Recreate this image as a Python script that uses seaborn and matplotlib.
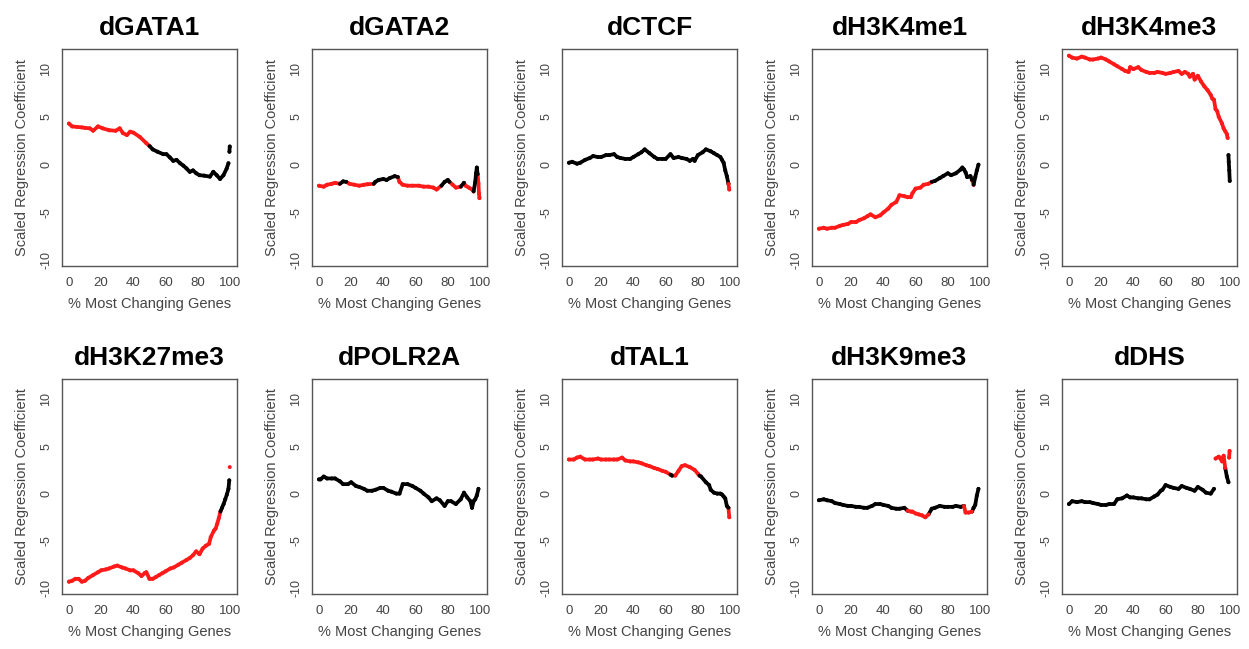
import numpy as np
import pandas as pd
import matplotlib
matplotlib.use("Agg")
import matplotlib.pyplot as plt
import seaborn as sns

sns.set_theme(style="white")
plt.rcParams["font.family"] = ["Liberation Sans", "DejaVu Sans"]

TITLES = ["dGATA1", "dGATA2", "dCTCF", "dH3K4me1", "dH3K4me3",
          "dH3K27me3", "dPOLR2A", "dTAL1", "dH3K9me3", "dDHS"]
X_TICKS = [0, 20, 40, 60, 80, 100]
Y_TICKS = [-10, -5, 0, 5, 10]
X_LABEL = "% Most Changing Genes"
Y_LABEL = "Scaled Regression Coefficient"

# ---- dGATA1
gata1_x = [0, 2, 5, 8, 10, 13, 15, 18, 21, 25, 29, 31.5, 33.5, 36, 38, 40, 44, 48, 50, 52, 55,
           58.5, 60.5, 62.7, 64.7, 66.8, 69, 71, 73, 75, 77, 79, 81, 84, 87.5, 89.6, 91.7, 93.8,
           95.9, 97.9, 99, 99.6, 99.8]
gata1_y = [4.3, 4.0, 3.95, 3.9, 3.85, 3.8, 3.55, 4.0, 3.8, 3.6, 3.55, 3.8, 3.3, 3.1, 3.45, 3.35,
           2.9, 2.25, 1.95, 1.6, 1.35, 1.1, 1.1, 0.75, 0.4, 0.5, 0.15, -0.1, -0.4, -0.75, -0.6,
           -0.9, -1.1, -1.15, -1.25, -0.75, -1.1, -1.5, -1.1, -0.4, 0.15, 1.35, 1.9]
gata1_red = [(0, 50)]
gata1_breaks = [99.6]

# ---- dGATA2
gata2_x = [0, 3, 5, 8, 10, 13, 15, 17, 19, 22, 25, 28, 30, 34, 35, 37, 40, 42, 44, 47, 49, 50,
           52, 55, 58, 62, 65, 68, 71, 73, 76, 78, 80, 81, 83, 85, 88, 90, 91, 93, 95, 96, 97,
           97.5, 98, 98.5, 99, 99.3, 99.6]
gata2_y = [-2.2, -2.3, -2.1, -2.0, -1.9, -2.0, -1.75, -1.8, -2.0, -2.1, -2.2, -2.1, -2.05, -2.0,
           -1.8, -1.6, -1.5, -1.6, -1.4, -1.2, -1.3, -1.8, -2.1, -2.2, -2.2, -2.2, -2.3, -2.3,
           -2.4, -2.6, -2.2, -1.8, -1.6, -1.8, -2.1, -2.4, -2.3, -1.9, -2.2, -2.4, -2.6, -2.8,
           -1.8, -0.9, -0.3, -1.0, -2.0, -3.0, -3.5]
gata2_red = [(0, 13), (19, 34), (50, 77), (83, 89), (91, 96.5), (99, 100)]
gata2_breaks = []

# ---- dCTCF
ctcf_x = [0, 2, 5, 7, 10, 13, 15, 18, 20, 23, 25, 28, 30, 32, 35, 38, 40, 43, 45, 47, 50, 53,
          55, 58, 60, 63, 65, 68, 70, 73, 75, 77, 78, 80, 83, 85, 88, 90, 92, 94, 95, 96, 97,
          98, 99, 99.5]
ctcf_y = [0.2, 0.3, 0.1, 0.2, 0.5, 0.7, 0.9, 0.8, 0.8, 1.0, 1.0, 1.1, 0.8, 0.7, 0.6, 0.6, 0.8,
          1.1, 1.3, 1.6, 1.2, 0.8, 0.6, 0.6, 0.6, 1.1, 0.7, 0.8, 0.7, 0.6, 0.4, 0.6, 0.4, 1.0,
          1.3, 1.6, 1.4, 1.2, 1.0, 0.8, 0.5, 0.2, -0.6, -1.2, -2.0, -2.6]
ctcf_red = [(99.5, 100)]
ctcf_breaks = []

# ---- dH3K4me1
k4me1_x = [0, 3, 5, 8, 10, 13, 15, 18, 20, 23, 25, 28, 30, 32, 35, 38, 40, 43, 45, 48, 50, 53,
           55, 57, 58, 60, 63, 65, 68, 70, 72, 75, 77, 80, 82, 85, 88, 89, 90, 91, 92, 94, 95,
           96, 97, 98, 99]
k4me1_y = [-6.7, -6.6, -6.7, -6.6, -6.6, -6.4, -6.3, -6.2, -6.0, -6.0, -5.8, -5.6, -5.4, -5.2,
           -5.5, -5.3, -5.0, -4.6, -4.2, -3.9, -3.2, -3.3, -3.4, -3.4, -3.0, -2.5, -2.4, -2.1,
           -2.0, -1.8, -1.7, -1.4, -1.2, -0.9, -1.1, -0.9, -0.5, -0.3, -0.5, -0.8, -1.3, -1.2,
           -1.6, -2.1, -1.3, -0.6, 0.0]
k4me1_red = [(0, 70), (96, 96)]
k4me1_breaks = []

# ---- dH3K4me3
k4me3_x = [0, 2, 5, 8, 10, 13, 15, 18, 20, 23, 25, 28, 30, 33, 35, 37, 38, 40, 43, 45, 48, 50,
           53, 55, 58, 60, 63, 65, 68, 70, 72, 74, 75, 77, 78, 80, 82, 84, 86, 88, 89, 90, 91,
           92, 93, 95, 96, 97, 98, 98.5, 99, 99.2, 99.5, 99.8]
k4me3_y = [11.4, 11.2, 11.1, 11.3, 11.2, 11.0, 11.0, 11.1, 11.2, 11.0, 10.8, 10.5, 10.3, 10.0,
           9.8, 9.7, 10.2, 10.0, 10.2, 9.9, 9.7, 9.6, 9.6, 9.7, 9.6, 9.5, 9.6, 9.7, 9.8, 9.5,
           9.7, 9.5, 9.2, 9.5, 8.9, 9.3, 8.7, 8.2, 7.8, 7.3, 6.9, 6.8, 5.8, 5.6, 5.0, 4.3, 3.8,
           3.5, 3.2, 2.8, 1.0, 0.3, -0.6, -1.7]
k4me3_red = [(0, 98.5)]
k4me3_breaks = [99]

# ---- dH3K27me3
k27_x = [0, 2, 4, 6, 8, 10, 12, 15, 18, 20, 23, 25, 28, 30, 33, 35, 38, 40, 43, 45, 47, 48, 50,
         52, 54, 56, 58, 60, 63, 65, 68, 70, 73, 75, 77, 79, 81, 83, 85, 87, 88, 90, 91, 92, 93,
         94, 95, 96, 97, 98, 99, 99.5, 99.8]
k27_y = [-9.3, -9.2, -9.0, -9.0, -9.3, -9.2, -8.9, -8.6, -8.3, -8.1, -8.0, -7.9, -7.7, -7.6,
         -7.8, -7.9, -8.1, -8.1, -8.4, -8.7, -8.4, -8.3, -9.0, -9.0, -8.8, -8.6, -8.4, -8.2,
         -7.9, -7.8, -7.5, -7.3, -7.0, -6.8, -6.5, -6.1, -6.4, -5.8, -5.5, -5.3, -4.6, -3.9,
         -3.7, -3.2, -2.6, -1.9, -1.5, -1.1, -0.6, -0.1, 0.5, 1.4, 2.8]
k27_red = [(0, 94), (99.7, 100)]
k27_breaks = [99.8]

# ---- dPOLR2A
polr_x = [0, 1, 3, 5, 8, 10, 13, 15, 18, 20, 23, 25, 28, 30, 33, 35, 38, 40, 43, 45, 48, 50, 52,
          55, 58, 60, 63, 65, 68, 70, 73, 75, 78, 80, 82, 85, 88, 90, 92, 94, 95, 96, 97, 98, 99]
polr_y = [1.5, 1.5, 1.8, 1.6, 1.6, 1.6, 1.3, 1.0, 1.0, 1.2, 0.8, 0.7, 0.5, 0.3, 0.3, 0.4, 0.6,
          0.6, 0.3, 0.2, 0.0, 0.0, 1.0, 1.0, 0.8, 0.6, 0.3, 0.0, -0.4, -0.8, -0.5, -0.7, -1.3,
          -0.8, -0.8, -1.1, -0.6, 0.1, -0.4, -0.8, -1.5, -0.8, -0.6, -0.2, 0.5]
polr_red = []
polr_breaks = []

# ---- dTAL1
tal1_x = [0, 3, 5, 7, 10, 13, 15, 18, 20, 23, 25, 28, 30, 33, 35, 38, 40, 43, 45, 48, 50, 53,
          55, 58, 60, 63, 64, 66, 68, 70, 72, 75, 78, 80, 81, 82, 85, 87, 88, 90, 92, 94, 95,
          96, 97, 98, 99, 99.5]
tal1_y = [3.6, 3.6, 3.8, 3.9, 3.6, 3.6, 3.6, 3.7, 3.6, 3.6, 3.6, 3.6, 3.6, 3.8, 3.5, 3.4, 3.4,
          3.3, 3.2, 3.0, 2.9, 2.7, 2.6, 2.4, 2.3, 2.0, 1.9, 1.9, 2.4, 2.9, 3.0, 2.8, 2.5, 2.1,
          1.9, 1.8, 1.2, 0.9, 0.4, 0.1, 0.0, 0.0, -0.1, -0.3, -0.5, -1.3, -1.5, -2.5]
tal1_red = [(0, 63), (66, 81), (99.5, 100)]
tal1_breaks = []

# ---- dH3K9me3
k9_x = [0, 3, 5, 8, 10, 13, 15, 18, 20, 23, 25, 28, 30, 33, 35, 38, 40, 43, 45, 48, 50, 53, 55,
        57, 58, 60, 62, 64, 66, 68, 70, 72, 75, 78, 80, 83, 85, 88, 90, 91, 93, 95, 96, 97, 98, 99]
k9_y = [-0.7, -0.6, -0.7, -0.8, -1.0, -1.1, -1.2, -1.3, -1.3, -1.4, -1.4, -1.5, -1.5, -1.3,
        -1.1, -1.1, -1.2, -1.3, -1.5, -1.6, -1.6, -1.5, -1.8, -1.9, -1.9, -2.1, -2.2, -2.3,
        -2.5, -2.2, -1.6, -1.5, -1.3, -1.4, -1.4, -1.4, -1.3, -1.4, -1.3, -2.0, -2.0, -1.9,
        -1.5, -1.2, -0.2, 0.5]
k9_red = [(57, 69), (91, 95)]
k9_breaks = []

# ---- dDHS
dhs_x = [0, 2, 5, 8, 10, 13, 15, 18, 20, 23, 25, 28, 30, 33, 36, 38, 40, 43, 45, 48, 50, 53, 55,
         57, 58, 60, 63, 65, 68, 70, 73, 75, 78, 80, 83, 85, 88, 90, 91, 93, 94, 95, 96, 97, 98,
         99, 99.4, 99.7]
dhs_y = [-1.1, -0.8, -0.9, -0.8, -0.9, -0.9, -1.0, -1.1, -1.2, -1.2, -1.1, -1.1, -0.6, -0.5,
         -0.2, -0.4, -0.4, -0.5, -0.5, -0.6, -0.6, -0.3, -0.1, 0.3, 0.4, 0.9, 0.7, 0.6, 0.5,
         0.8, 0.6, 0.5, 0.3, 0.7, 0.4, 0.1, 0.0, 0.5, 3.7, 3.9, 3.7, 3.4, 4.0, 2.7, 1.8, 1.2,
         3.8, 4.5]
dhs_red = [(91, 97), (99.3, 100)]
dhs_breaks = [91, 99.4]

PANELS = [
    (gata1_x, gata1_y, gata1_red, gata1_breaks),
    (gata2_x, gata2_y, gata2_red, gata2_breaks),
    (ctcf_x, ctcf_y, ctcf_red, ctcf_breaks),
    (k4me1_x, k4me1_y, k4me1_red, k4me1_breaks),
    (k4me3_x, k4me3_y, k4me3_red, k4me3_breaks),
    (k27_x, k27_y, k27_red, k27_breaks),
    (polr_x, polr_y, polr_red, polr_breaks),
    (tal1_x, tal1_y, tal1_red, tal1_breaks),
    (k9_x, k9_y, k9_red, k9_breaks),
    (dhs_x, dhs_y, dhs_red, dhs_breaks),
]

PALETTE = {"r": "#ff1a1a", "k": "#000000"}


def build(x, y, red, breaks):
    if len(x) != len(y):
        raise ValueError("length mismatch %d %d" % (len(x), len(y)))
    cols = ["r" if any(a <= xi <= b for a, b in red) else "k" for xi in x]
    rows = []
    run = 0
    for i in range(len(x)):
        if i > 0:
            if x[i] in breaks:
                run += 1
            elif cols[i] != cols[i - 1]:
                run += 1
                rows.append((x[i - 1], y[i - 1], cols[i], run))
        rows.append((x[i], y[i], cols[i], run))
    lines = pd.DataFrame(rows, columns=["x", "y", "c", "run"])
    pts = pd.DataFrame({"x": x, "y": y, "c": cols})
    return lines, pts


W, H = 1249, 649
fig = plt.figure(figsize=(W / 100, H / 100), dpi=100)
fig.patch.set_facecolor("white")

AX_W = 175
ROW_BOX = [(49, 266), (379, 594)]
GREY = "#555555"

for k, (title, panel) in enumerate(zip(TITLES, PANELS)):
    r, c = divmod(k, 5)
    left = 62 + 250 * c
    top, bottom = ROW_BOX[r]
    ax = fig.add_axes([left / W, 1 - bottom / H, AX_W / W, (bottom - top) / H])
    lines, pts = build(*panel)
    sns.lineplot(data=lines, x="x", y="y", hue="c", units="run", estimator=None, sort=False,
                 palette=PALETTE, linewidth=2.7, legend=False, ax=ax)
    sns.scatterplot(data=pts, x="x", y="y", hue="c", palette=PALETTE, s=8, linewidth=0,
                    legend=False, ax=ax)
    ax.set_xlim(-4.3, 104.3)
    ax.set_ylim(-10.6, 12.1)
    ax.set_xticks(X_TICKS)
    ax.set_yticks(Y_TICKS)
    ax.set_yticklabels([str(v) for v in Y_TICKS], rotation=90, va="center")
    ax.tick_params(axis="both", direction="out", length=4, width=0.9, color=GREY,
                   labelcolor="#444444")
    ax.tick_params(axis="x", pad=4, labelsize=9.5)
    ax.tick_params(axis="y", pad=3, labelsize=9)
    for s in ax.spines.values():
        s.set_visible(True)
        s.set_color(GREY)
        s.set_linewidth(1.0)
    ax.set_xlabel(X_LABEL, fontsize=10.5, color="#444444", labelpad=6)
    ax.set_ylabel(Y_LABEL, fontsize=10.5, color="#444444", labelpad=8)
    ax.set_title(title, fontsize=19, fontweight="bold", color="black", pad=10)
    ax.set_facecolor("white")

fig.savefig("out.png", dpi=100, facecolor="white")
